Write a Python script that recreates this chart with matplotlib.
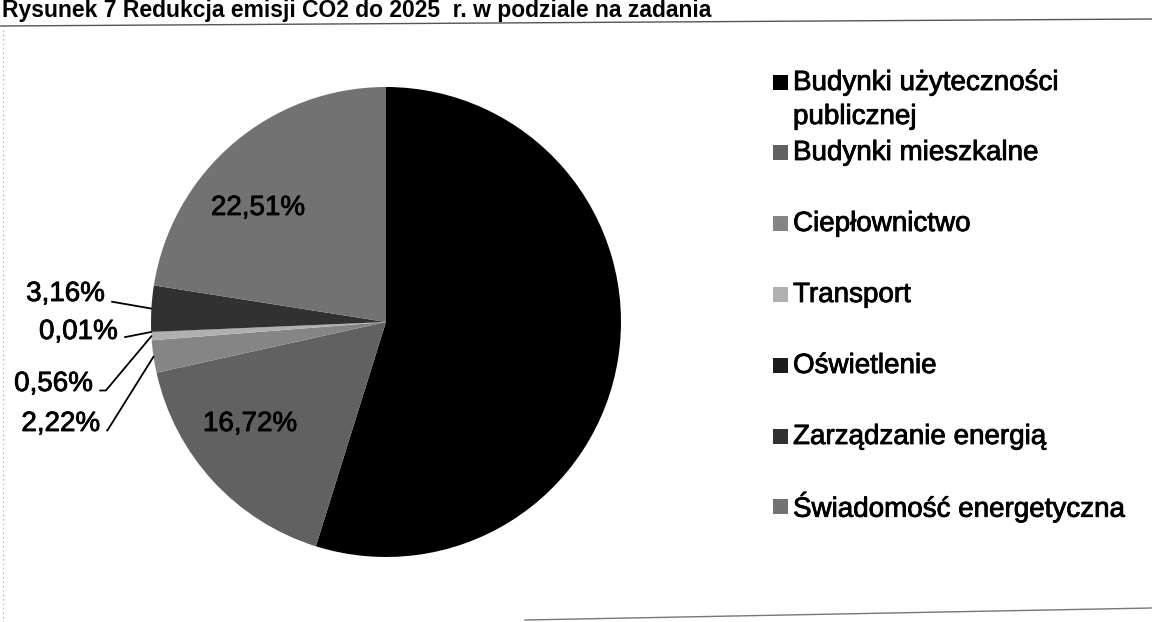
import matplotlib
matplotlib.use("Agg")
import matplotlib.pyplot as plt
import matplotlib.patheffects as pe
from matplotlib.patches import Rectangle
from matplotlib.lines import Line2D
import numpy as np

plt.rcParams['font.family'] = ['Liberation Sans', 'DejaVu Sans']

# ---------------- data ----------------
title = "Rysunek 7 Redukcja emisji CO2 do 2025  r. w podziale na zadania"
categories = ["Budynki użyteczności\npublicznej", "Budynki mieszkalne", "Ciepłownictwo",
              "Transport", "Oświetlenie", "Zarządzanie energią", "Świadomość energetyczna"]
shares = [54.82, 16.72, 2.22, 0.56, 0.01, 3.16, 22.51]
value_labels = ["54,82%", "16,72%", "2,22%", "0,56%", "0,01%", "3,16%", "22,51%"]
colors = ["#000000", "#616161", "#858585", "#b0b0b0", "#1c1c1c", "#313131", "#727272"]

# ---------------- layout ----------------
W, H = 1152, 622
fig = plt.figure(figsize=(W / 100, H / 100), dpi=100)
fig.patch.set_facecolor("white")

def fx(x):
    return x / W

def fy(y):
    return 1 - y / H

thick = [pe.withStroke(linewidth=0.6, foreground="black")]

cx, cy, R = 386, 322, 235
ax = fig.add_axes([fx(cx - R), fy(cy + R), 2 * R / W, 2 * R / H])
wedges, _ = ax.pie(shares, colors=colors, startangle=90, counterclock=False,
                   radius=1, wedgeprops=dict(linewidth=0))
ax.set_xlim(-1, 1)
ax.set_ylim(-1, 1)
ax.axis("off")

def mid_angle(w):
    return np.deg2rad((w.theta1 + w.theta2) / 2)

# inside labels (pixel positions, top-left origin)
inside = {0: (560, 330), 1: (250, 424), 6: (258, 208)}
for i, (px, py) in inside.items():
    fig.text(fx(px), fy(py), value_labels[i], ha="center", va="center",
             fontsize=20, color="black", path_effects=thick)

# outside labels with leader lines
outside = {5: (105, 294, "arc3"), 4: (118, 332, "arc3"),
           3: (93, 384, "angle,angleA=0,angleB=50,rad=0"),
           2: (100, 424, "angle,angleA=0,angleB=58,rad=0")}
for i, (px, py, cs) in outside.items():
    a = mid_angle(wedges[i])
    ax.annotate(value_labels[i], xy=(np.cos(a), np.sin(a)), xycoords="data",
                xytext=(fx(px), fy(py)), textcoords="figure fraction",
                ha="right", va="center", fontsize=20, path_effects=thick,
                arrowprops=dict(arrowstyle="-", color="black", lw=1.3,
                                shrinkA=3, shrinkB=0, relpos=(1.0, 0.25),
                                connectionstyle=cs))

# legend (manual, Excel-like spacing)
sq_y = [83, 153, 224, 295, 366, 437, 507]
tx_y = [100, 153, 224, 295, 366, 437, 507]
for lab, col, ys, yt in zip(categories, colors, sq_y, tx_y):
    fig.add_artist(Rectangle((fx(773), fy(ys + 7)), 15 / W, 15 / H,
                             transform=fig.transFigure, facecolor=col,
                             edgecolor="none"))
    fig.text(fx(793), fy(yt), lab, ha="left", va="center", fontsize=20,
             linespacing=1.4, color="black", path_effects=thick)

# title and scanned frame lines
fig.text(fx(2), fy(11), title, ha="left", va="center", fontsize=16.5,
         fontweight="bold", color="black")
fig.add_artist(Line2D([fx(0), fx(W)], [fy(26), fy(19)], transform=fig.transFigure,
                      color="#555555", lw=1))
fig.add_artist(Line2D([fx(3), fx(3)], [fy(30), fy(H)], transform=fig.transFigure,
                      color="#999999", lw=0.8, ls=(0, (1, 3))))
fig.add_artist(Line2D([fx(525), fx(W)], [fy(620), fy(608)], transform=fig.transFigure,
                      color="#777777", lw=1))

fig.savefig("out.png", dpi=100, facecolor="white")
